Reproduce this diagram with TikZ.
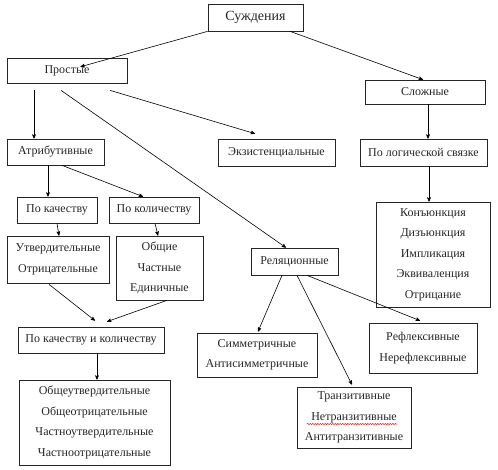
\documentclass[tikz,border=0pt]{standalone}
\usepackage{fontspec}
\setmainfont{Liberation Serif}
\usepackage{tikz}
\usetikzlibrary{positioning,calc}
\usetikzlibrary{arrows,decorations.pathmorphing}

\tikzset{
  box/.style={draw=black!85, line width=0.7pt, inner sep=0pt, align=center,
    text=black!85, font=\fontsize{12}{20.5}\selectfont},
}

\begin{document}
\begin{tikzpicture}[x=1pt,y=-1pt,->,>=stealth',line width=0.6pt]
      \useasboundingbox (0,0) rectangle (498,470);
      % top levels
      \node[box, minimum width=95pt, minimum height=27pt, font=\fontsize{14}{16}\selectfont] (sud) at (255.5,17.5) {Суждения};
      \node[box, minimum width=120pt, minimum height=25pt] (pro) at (67,70.5) {Простые};
      \node[box, minimum width=120pt, minimum height=24pt] (slo) at (425,92) {Сложные};
      \node[box, minimum width=97pt, minimum height=26pt] (atr) at (55.5,152) {Атрибутивные};
      \node[box, minimum width=117pt, minimum height=27pt] (ekz) at (276.5,152.5) {Экзистенциальные};
      \node[box, minimum width=127pt, minimum height=27pt] (log) at (423.5,152.5) {По логической связке};
      % attributive branch
      \node[box, minimum width=80pt, minimum height=26pt] (kach) at (57,210) {По качеству};
      \node[box, minimum width=90pt, minimum height=26pt] (kol) at (154,210) {По количеству};
      \node[box, minimum width=102pt, minimum height=47pt] (utv) at (58,259.5) {Утвердительные\\Отрицательные};
      \node[box, minimum width=87pt, minimum height=64pt] (obsh) at (159.5,268) {Общие\\Частные\\Единичные};
      \node[box, minimum width=146pt, minimum height=26pt] (kk) at (91,340) {По качеству и количеству};
      \node[box, minimum width=151pt, minimum height=85pt] (obut) at (94.5,422.5) {Общеутвердительные\\Общеотрицательные\\Частноутвердительные\\Частноотрицательные};
      % complex branch
      \node[box, minimum width=114pt, minimum height=105pt] (kon) at (433,254.5) {Конъюнкция\\Дизъюнкция\\Импликация\\Эквиваленция\\Отрицание};
      % relational branch
      \node[box, minimum width=87pt, minimum height=27pt] (rel) at (294.5,261.5) {Реляционные};
      \node[box, minimum width=120pt, minimum height=44pt] (sim) at (257,355) {Симметричные\\Антисимметричные};
      \node[box, minimum width=108pt, minimum height=50pt] (ref) at (423,348) {Рефлексивные\\Нерефлексивные};
      \node[box, minimum width=114pt, minimum height=61pt] (tra) at (354,417.5) {Транзитивные\\Нетранзитивные\\Антитранзитивные};
      \draw[-, red, line width=0.5pt, decorate, decoration={snake, amplitude=0.6pt, segment length=2.5pt}]
        ($(tra.center)+(-47,6.5)$) -- ($(tra.center)+(43,6.5)$);

      \path[->] (sud.south west) edge[shorten >=14pt] (pro.center)
      ($(sud.south)+(34.5,0)$) edge ($(slo.north)+(-2,0)$)
      ($(pro.south)+(-33,7)$) edge (atr.north -| {$(pro.south)+(-33,7)$})
      ($(pro.south)+(43,7)$) edge ($(ekz.north)+(-21.5,-5)$)
      ($(pro.south)+(-6,7)$) edge ($(rel.north)+(-8.5,0)$)
      ($(slo.south)+(3,0)$) edge ($(log.north)+(4.5,0)$)
      ($(log.south)+(5.5,0)$) edge ($(kon.north)+(-4,0)$)
      ($(atr.south)+(-7.5,0)$) edge ($(kach.north)+(-9,0)$)
      ($(atr.south)+(6.5,0)$) edge ($(kol.north)+(-11,0)$)
      (kach.south) edge ($(utv.north)+(1,0)$)
      ($(kol.south)+(1,0)$) edge ($(obsh.north)+(-1.5,0)$)
      ($(utv.south)+(-9,1)$) edge ($(kk.north)+(4,-6)$)
      ($(obsh.south)+(7.5,0)$) edge ($(kk.north)+(16,-5)$)
      ($(kk.south)+(6,0)$) edge ($(obut.north)+(2.5,0)$)
      ($(rel.south)+(-12.5,0)$) edge ($(sim.north)+(1,-1)$)
      ($(rel.south)+(2.5,0)$) edge ($(tra.north)+(-2,-2)$)
      ($(rel.south)+(12.5,0)$) edge ($(ref.north)+(-3,-2)$);
    \end{tikzpicture}
\end{document}
